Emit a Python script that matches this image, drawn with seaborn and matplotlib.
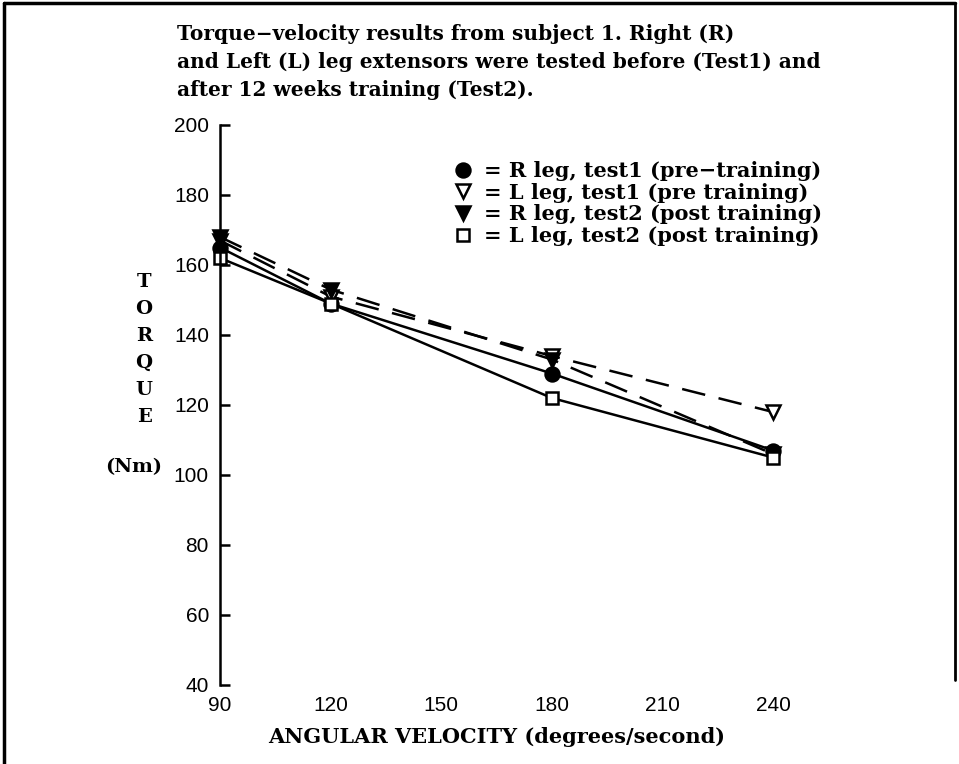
import numpy as np
import pandas as pd
import matplotlib.pyplot as plt
import seaborn as sns
from matplotlib.lines import Line2D

# datos
velocidad = [90, 120, 180, 240]
r_test1 = [165, 149, 129, 107]
l_test1 = [167, 151, 134, 118]
r_test2 = [168, 153, 133, 106]
l_test2 = [162, 149, 122, 105]

etiquetas = [
    "= R leg, test1 (pre\u2212training)",
    "= L leg, test1 (pre training)",
    "= R leg, test2 (post training)",
    "= L leg, test2 (post training)",
]

sns.set_style("ticks")
plt.rcParams['font.family'] = ['Liberation Sans', 'DejaVu Sans']
plt.rcParams['text.color'] = 'black'

fig = plt.figure(figsize=(9.59, 7.64), dpi=100)
ax = fig.add_axes([220 / 959, 1 - 685 / 764, 553 / 959, 560 / 764])

series = [
    (r_test1, 'o', 'black', '-', 10),
    (l_test1, 'v', 'white', (0, (9.5, 5.5)), 10.5),
    (r_test2, 'v', 'black', (0, (9.5, 5.5)), 10.5),
    (l_test2, 's', 'white', '-', 8.5),
]

for valores, marcador, relleno, estilo, tam in series:
    df = pd.DataFrame({'x': velocidad, 'y': valores})
    sns.lineplot(data=df, x='x', y='y', ax=ax, color='black', linewidth=1.8,
                 linestyle=estilo, marker=marcador, markersize=tam,
                 markerfacecolor=relleno, markeredgecolor='black',
                 markeredgewidth=1.8, clip_on=False)

ax.set_xlim(90, 240)
ax.set_ylim(40, 200)
ax.set_xticks([90, 120, 150, 180, 210, 240])
ax.set_yticks(np.arange(40, 201, 20))
ax.set_xlabel('')
ax.set_ylabel('')
for lado in ['top', 'right', 'bottom']:
    ax.spines[lado].set_visible(False)
ax.spines['left'].set_linewidth(1.8)
ax.spines['left'].set_color('black')
ax.tick_params(axis='y', direction='in', length=7, width=1.8, pad=8,
               labelsize=15, colors='black')
ax.tick_params(axis='x', length=0, pad=8, labelsize=15, colors='black')

serif = ['DejaVu Serif']
ax.text(0.5, -0.093, 'ANGULAR VELOCITY (degrees/second)', transform=ax.transAxes,
        ha='center', va='center', fontsize=15, fontweight='bold', family=serif)

# etiqueta vertical del eje y
for i, letra in enumerate('TORQUE'):
    fig.text(144 / 959, 1 - (282 + 27 * i) / 764, letra, ha='center', va='center',
             fontsize=14, fontweight='bold', family=serif)
fig.text(134 / 959, 1 - 467 / 764, '(Nm)', ha='center', va='center',
         fontsize=14, fontweight='bold', family=serif)

titulo = [
    'Torque\u2212velocity results from subject 1. Right (R)',
    'and Left (L) leg extensors were tested before (Test1) and',
    'after 12 weeks training (Test2).',
]
for i, linea in enumerate(titulo):
    fig.text(177 / 959, 1 - (34 + 28 * i) / 764, linea, ha='left', va='center',
             fontsize=14.5, fontweight='bold', family=serif)

manijas = [Line2D([], [], linestyle='none', marker=m, markersize=t,
                  markerfacecolor=f, markeredgecolor='black', markeredgewidth=1.8)
           for _, m, f, _, t in series]
leg = ax.legend(manijas, etiquetas, loc='upper left',
                bbox_to_anchor=(455 / 959, 1 - 161 / 764),
                bbox_transform=fig.transFigure, frameon=False,
                handlelength=0.8, handletextpad=0.6, labelspacing=0.08,
                borderpad=0, borderaxespad=0,
                prop={'family': serif, 'weight': 'bold', 'size': 15})

# marco de la figura
fig.add_artist(Line2D([0.004, 0.996], [0.996, 0.996], color='black', lw=2.5,
                      transform=fig.transFigure))
fig.add_artist(Line2D([0.004, 0.004], [0.0, 0.996], color='black', lw=2.5,
                      transform=fig.transFigure))
fig.add_artist(Line2D([0.996, 0.996], [0.11, 0.996], color='black', lw=2.0,
                      transform=fig.transFigure))

fig.savefig('out.png', dpi=100)
